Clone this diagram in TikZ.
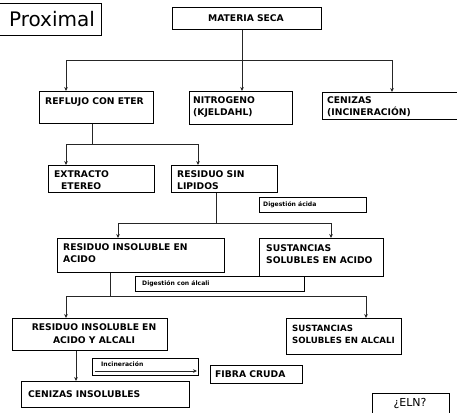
\documentclass[tikz,border=0pt]{standalone}
\usepackage{fontspec}
\setmainfont{DejaVu Sans}
\usetikzlibrary{arrows.meta}
\begin{document}
\begin{tikzpicture}[x=1pt,y=-1pt,
  box/.style={draw=black, line width=0.8pt, inner sep=0pt, anchor=north west},
  txt/.style={anchor=north west, inner sep=0pt, align=left, font=\bfseries\fontsize{9.2}{12}\selectfont},
  small/.style={anchor=north west, inner sep=0pt, font=\bfseries\fontsize{6.1}{7}\selectfont},
  conn/.style={draw=black!85, line width=0.8pt},
  arr/.style={conn, -{Stealth[length=4pt,width=3.6pt]}}]
\useasboundingbox (0,0) rectangle (457,412);
\clip (0,0) rectangle (457,412);
% boxes
\node[box, minimum width=106, minimum height=32] (prox) at (-5,3) {};
\node[box, minimum width=149, minimum height=22] (ms) at (172,7) {};
\node[box, minimum width=114, minimum height=32] (ref) at (39,91) {};
\node[box, minimum width=103, minimum height=33] (nit) at (189,91) {};
\node[box, minimum width=148, minimum height=27] (cen) at (322,92) {};
\node[box, minimum width=106, minimum height=27] (ext) at (48,165) {};
\node[box, minimum width=106, minimum height=27] (rsl) at (171,165) {};
\node[box, minimum width=107, minimum height=15] (dac) at (259,197) {};
\node[box, minimum width=167, minimum height=34] (ria) at (57,238) {};
\node[box, minimum width=124, minimum height=38] (ssa) at (259,238) {};
\node[box, minimum width=169, minimum height=15] (dal) at (135,276) {};
\node[box, minimum width=155, minimum height=32] (riaa) at (12,318) {};
\node[box, minimum width=115, minimum height=36] (ssal) at (286,318) {};
\node[box, minimum width=106, minimum height=17] (inc) at (92,358) {};
\node[box, minimum width=92, minimum height=18] (fc) at (210,365) {};
\node[box, minimum width=168, minimum height=26] (ci) at (21,381) {};
\node[box, minimum width=77, minimum height=30] (eln) at (372,393) {};
% texts
\node[inner sep=0pt, font=\fontsize{20}{22}\selectfont] (tprox) at (52,19) {Proximal};
\node[inner sep=0pt, font=\bfseries\fontsize{9.2}{12}\selectfont] (tms) at (246,18) {MATERIA SECA};
\node[txt] (tref) at (45,97) {REFLUJO CON ETER};
\node[txt] (tnit) at (193,96) {NITROGENO\\(KJELDAHL)};
\node[txt] (tcen) at (327,96) {CENIZAS\\(INCINERACIÓN)};
\node[txt] (text) at (54,170) {EXTRACTO\\\hspace*{7pt}ETEREO};
\node[txt] (trsl) at (177,170) {RESIDUO SIN\\LIPIDOS};
\node[small] (tdac) at (263,201) {Digestión ácida};
\node[txt] (tria) at (63,243.5) {RESIDUO INSOLUBLE EN\\ACIDO};
\node[txt] (tssa) at (266,244.5) {SUSTANCIAS\\SOLUBLES EN ACIDO};
\node[small] (tdal) at (142,280) {Digestión con álcali};
\node[inner sep=0pt, align=center, font=\bfseries\fontsize{9.2}{13}\selectfont] (triaa) at (94,334) {RESIDUO INSOLUBLE EN\\ACIDO Y ALCALI};
\node[txt, font=\bfseries\fontsize{8.6}{12}\selectfont] (tssal) at (292,325) {SUSTANCIAS\\SOLUBLES EN ALCALI};
\node[small] (tinc) at (101,361.5) {Incineración};
\node[txt] (tfc) at (215,370) {FIBRA CRUDA};
\node[txt] (tci) at (28,390) {CENIZAS INSOLUBLES};
\node[inner sep=0pt, font=\fontsize{11}{13}\selectfont] (teln) at (410,403) {¿ELN?};
% junction coordinates
\coordinate (j1) at (242,60);
\coordinate (a1) at (66,60);
\coordinate (b1) at (392,60);
\coordinate (j2) at (92,144);
\coordinate (a2) at (66,144);
\coordinate (b2) at (198,144);
\coordinate (j3) at (216,223);
\coordinate (a3) at (118,223);
\coordinate (b3) at (331,223);
\coordinate (j4) at (110,296);
\coordinate (a4) at (66,296);
\coordinate (b4) at (366,296);
\coordinate (j5) at (76,350);
\coordinate (i1) at (95,371);
\coordinate (i2) at (197,371);
% connectors
\draw[conn] (j1 |- ms.south) -- (j1);
\draw[conn] (a1) -- (b1);
\draw[arr] (a1) -- (a1 |- ref.north);
\draw[arr] (j1) -- (j1 |- nit.north);
\draw[arr] (b1) -- (b1 |- cen.north);
\draw[conn] (j2 |- ref.south) -- (j2);
\draw[conn] (a2) -- (b2);
\draw[arr] (a2) -- (a2 |- ext.north);
\draw[arr] (b2) -- (b2 |- rsl.north);
\draw[conn] (j3 |- rsl.south) -- (j3);
\draw[conn] (a3) -- (b3);
\draw[arr] (a3) -- (a3 |- ria.north);
\draw[arr] (b3) -- (b3 |- ssa.north);
\draw[conn] (j4 |- ria.south) -- (j4);
\draw[conn] (a4) -- (b4);
\draw[arr] (a4) -- (a4 |- riaa.north);
\draw[arr] (b4) -- (b4 |- ssal.north);
\draw[arr] (j5 |- riaa.south) -- (j5 |- ci.north);
\draw[arr] (i1) -- (i2);
\end{tikzpicture}
\end{document}
